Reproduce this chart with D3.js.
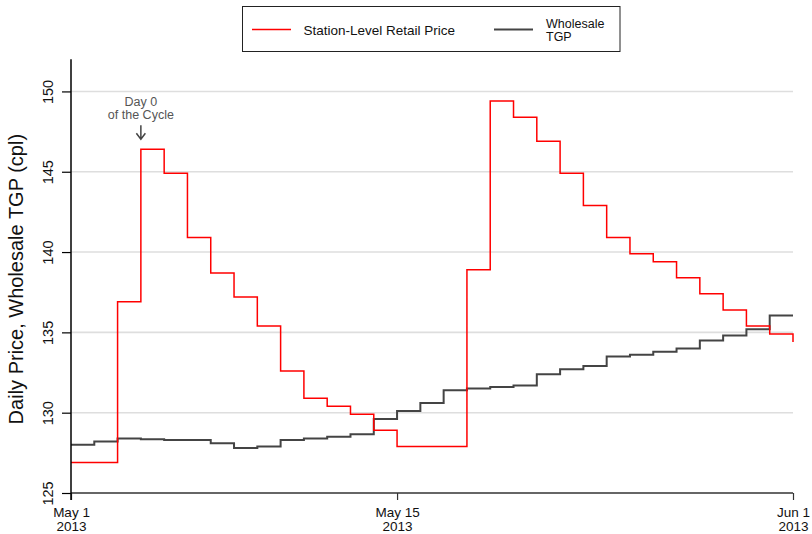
<!DOCTYPE html>
<html><head><meta charset="utf-8">
<script src="https://cdn.jsdelivr.net/npm/d3@7"></script>
<style>
html,body{margin:0;padding:0;background:#fff;}
svg{display:block;font-family:"Liberation Sans",Arial,Helvetica,sans-serif;}
</style></head>
<body><svg id="chart" width="812" height="534"></svg>
<script>
// day offsets from May 1, 2013 (0..31 => May 1 .. Jun 1)
const days = d3.range(0, 32);
const retail = [126.9,126.9,136.9,146.4,144.9,140.9,138.7,137.2,135.4,132.6,130.9,130.4,129.9,128.9,127.9,127.9,127.9,138.9,149.4,148.4,146.9,144.9,142.9,140.9,139.9,139.4,138.4,137.4,136.4,135.4,134.9,134.4];
const wholesale = [128.0,128.2,128.4,128.35,128.3,128.3,128.1,127.8,127.9,128.3,128.4,128.5,128.65,129.6,130.1,130.6,131.4,131.5,131.6,131.7,132.4,132.7,132.9,133.5,133.6,133.8,134.0,134.5,134.8,135.2,136.05,136.05];
const yTicks = [125,130,135,140,145,150];
const xTickDays = [0,14,31];
const xTickLabels = [["May 1","2013"],["May 15","2013"],["Jun 1","2013"]];
const seriesNames = ["Station-Level Retail Price", ["Wholesale","TGP"]];
const annotDay = 3;
const annotText = ["Day 0","of the Cycle"];

const svg = d3.select("#chart");
const m = {left:71, right:19, top:59.3, bottom:41};
const W = 812, H = 534;
const start = new Date(Date.UTC(2013,4,1));
const dayDate = d => new Date(start.getTime() + d*86400000);

const x = d3.scaleUtc().domain([dayDate(0), dayDate(31)]).range([m.left, W - m.right]);
const y = d3.scaleLinear().domain([125, 152]).range([H - m.bottom, m.top]);

// gridlines
svg.append("g").selectAll("line").data(yTicks.filter(t => t > 125)).join("line")
  .attr("x1", m.left).attr("x2", W - m.right)
  .attr("y1", d => y(d)).attr("y2", d => y(d))
  .attr("stroke", "#dedede").attr("stroke-width", 1.6);

// lines
const line = vals => d3.line()
  .x((v,i) => x(dayDate(days[i])))
  .y(v => y(v))
  .curve(d3.curveStepAfter)(vals);

svg.append("path").attr("d", line(wholesale)).attr("fill","none")
  .attr("stroke","#444").attr("stroke-width",2);
svg.append("path").attr("d", line(retail)).attr("fill","none")
  .attr("stroke","#f00").attr("stroke-width",1.5);

// x axis
const xAxis = svg.append("g").attr("transform", `translate(0,${y(125)})`)
  .call(d3.axisBottom(x).tickValues(xTickDays.map(dayDate)).tickSize(7).tickFormat(""));
xAxis.select(".domain").attr("stroke","#333").attr("stroke-width",1.5).attr("d", `M${m.left},0H${W-m.right}`);
xAxis.selectAll(".tick line").attr("stroke","#333").attr("stroke-width",1.2);
xAxis.selectAll(".tick").each(function(d,i){
  const g = d3.select(this);
  g.append("text").attr("fill","#111").attr("font-size","13.5px").attr("text-anchor","middle")
    .attr("x",0).attr("y",23.5).text(xTickLabels[i][0]);
  g.append("text").attr("fill","#111").attr("font-size","13.5px").attr("text-anchor","middle")
    .attr("x",0).attr("y",37.5).text(xTickLabels[i][1]);
});

// y axis
const yAxis = svg.append("g").attr("transform", `translate(${m.left},0)`)
  .call(d3.axisLeft(y).tickValues(yTicks).tickSize(9).tickFormat(""));
yAxis.select(".domain").attr("stroke","#000").attr("stroke-width",1.5).attr("d", `M0,${m.top}V${y(125)+7}`);
yAxis.selectAll(".tick line").attr("stroke","#000").attr("stroke-width",1.2);
yAxis.selectAll(".tick").append("text")
  .attr("transform","translate(-18,0) rotate(-90)")
  .attr("text-anchor","middle").attr("fill","#111").attr("font-size","14.5px")
  .text(d => d);

// y title
svg.append("text").attr("transform", `translate(23,${(y(125)+m.top)/2+3}) rotate(-90)`)
  .attr("text-anchor","middle").attr("font-size","20px").attr("fill","#111")
  .text("Daily Price, Wholesale TGP (cpl)");

// annotation
const ax = x(dayDate(annotDay));
const tipY = y(retail[annotDay]) - 10;
svg.append("text").attr("x", ax).attr("y", tipY - 33).attr("text-anchor","middle")
  .attr("font-size","12.5px").attr("fill","#555").text(annotText[0]);
svg.append("text").attr("x", ax).attr("y", tipY - 20).attr("text-anchor","middle")
  .attr("font-size","12.5px").attr("fill","#555").text(annotText[1]);
svg.append("path").attr("d", `M${ax},${tipY-14}V${tipY}M${ax-4.5},${tipY-6}L${ax},${tipY}L${ax+4.5},${tipY-6}`)
  .attr("fill","none").attr("stroke","#444").attr("stroke-width",1.5);

// legend
const lg = svg.append("g");
lg.append("rect").attr("x",242.5).attr("y",6.5).attr("width",377.5).attr("height",45)
  .attr("fill","#fff").attr("stroke","#222").attr("stroke-width",1);
lg.append("line").attr("x1",252).attr("x2",291).attr("y1",29.5).attr("y2",29.5)
  .attr("stroke","#f00").attr("stroke-width",1.3);
lg.append("text").attr("x",303.5).attr("y",34.5).attr("font-size","13.5px").attr("fill","#111").text(seriesNames[0]);
lg.append("line").attr("x1",494).attr("x2",533).attr("y1",29.5).attr("y2",29.5)
  .attr("stroke","#444").attr("stroke-width",2);
lg.append("text").attr("x",546).attr("y",27.5).attr("font-size","12.5px").attr("fill","#111").text(seriesNames[1][0]);
lg.append("text").attr("x",546).attr("y",40.5).attr("font-size","12.5px").attr("fill","#111").text(seriesNames[1][1]);
</script></body></html>
